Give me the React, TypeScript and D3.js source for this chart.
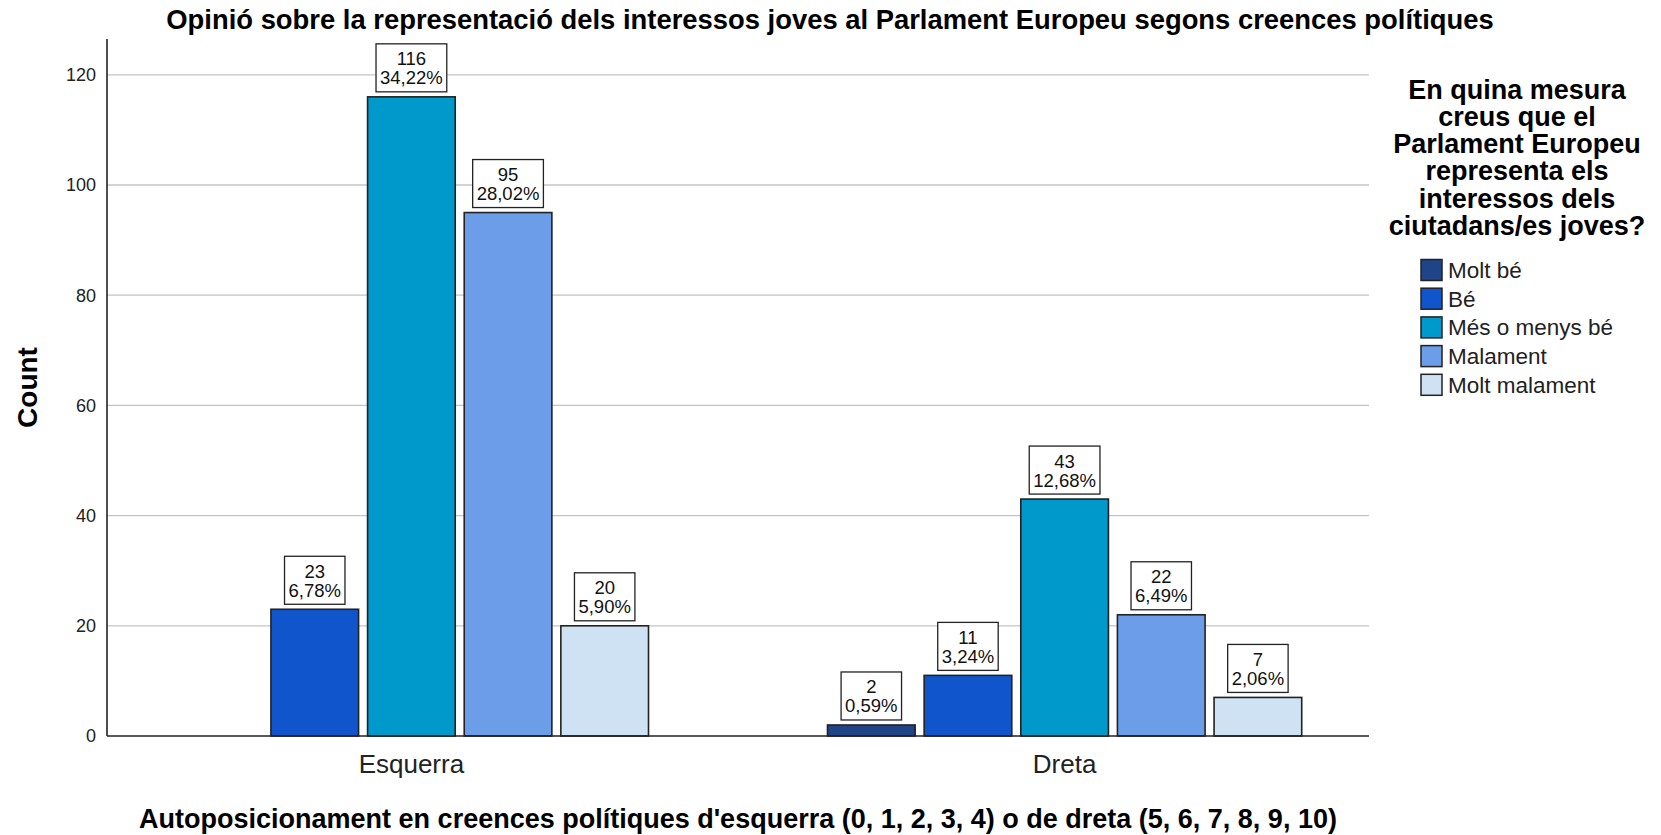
import React from "react";
import * as d3 from "d3";

const TITLE = "Opinió sobre la representació dels interessos joves al Parlament Europeu segons creences polítiques";
const X_TITLE = "Autoposicionament en creences polítiques d'esquerra (0, 1, 2, 3, 4) o de dreta (5, 6, 7, 8, 9, 10)";
const Y_TITLE = "Count";
const LEGEND_TITLE = ["En quina mesura", "creus que el", "Parlament Europeu", "representa els", "interessos dels", "ciutadans/es joves?"];

const categories = ["Esquerra", "Dreta"];
const seriesNames = ["Molt bé", "Bé", "Més o menys bé", "Malament", "Molt malament"];
const seriesColors = ["#1F4488", "#1155CC", "#0099CC", "#6B9DE8", "#CFE2F3"];
const esquerraValues = [0, 23, 116, 95, 20];
const dretaValues = [2, 11, 43, 22, 7];
const percentEsquerra = ["0,00%", "6,78%", "34,22%", "28,02%", "5,90%"];
const percentDreta = ["0,59%", "3,24%", "12,68%", "6,49%", "2,06%"];
const yTicks = [0, 20, 40, 60, 80, 100, 120];

const values = [esquerraValues, dretaValues];
const percents = [percentEsquerra, percentDreta];

const W = 1661;
const H = 835;
const FONT = '"Liberation Sans", Arial, Helvetica, sans-serif';
const LABEL_FS = 18.5;

let measureCtx: CanvasRenderingContext2D | null = null;
function measure(text: string, size: number): number {
  if (!measureCtx) {
    const c = document.createElement("canvas");
    measureCtx = c.getContext("2d");
  }
  if (!measureCtx) return text.length * size * 0.55;
  measureCtx.font = `${size}px "Liberation Sans", Arial, sans-serif`;
  return measureCtx.measureText(text).width;
}

export default function App() {
  React.useEffect(() => {
    document.body.style.margin = "0";
  }, []);

  const plotLeft = 107;
  const plotRight = 1369;
  const plotBottom = 736;
  const pxPerUnit = 5.51;
  const yMax = 126.5;

  const y = d3.scaleLinear().domain([0, yMax]).range([plotBottom, plotBottom - yMax * pxPerUnit]);
  const x0 = d3
    .scaleBand<string>()
    .domain(categories)
    .range([plotLeft, plotRight])
    .paddingInner(0.274)
    .paddingOuter(0.103);
  const x1 = d3
    .scaleBand<string>()
    .domain(seriesNames)
    .range([0, x0.bandwidth()])
    .paddingInner(0.093)
    .paddingOuter(0);

  const plotTop = y(yMax);

  return (
    <svg
      width={W}
      height={H}
      viewBox={`0 0 ${W} ${H}`}
      style={{ position: "absolute", left: 0, top: 0, background: "#fff", fontFamily: FONT }}
    >
      <rect x={0} y={0} width={W} height={H} fill="#fff" />
      {/* Title */}
      <text x={830} y={29} textAnchor="middle" fontSize={27.4} fontWeight="bold" fill="#000">
        {TITLE}
      </text>

      {/* gridlines */}
      {yTicks
        .filter((t) => t > 0)
        .map((t) => (
          <line key={t} x1={plotLeft} x2={plotRight} y1={y(t)} y2={y(t)} stroke="#C4C4C4" strokeWidth={1.3} />
        ))}

      {/* y tick labels */}
      {yTicks.map((t) => (
        <text key={t} x={96} y={y(t)} dy="0.35em" textAnchor="end" fontSize={18} fill="#222">
          {t}
        </text>
      ))}

      {/* bars */}
      {categories.map((cat, ci) => (
        <g key={cat} transform={`translate(${x0(cat)},0)`}>
          {seriesNames.map((s, si) => {
            const v = values[ci][si];
            if (v <= 0) return null;
            const bx = x1(s) as number;
            const bw = x1.bandwidth();
            const top = y(v);
            const countStr = String(v);
            const pctStr = percents[ci][si];
            const tw = Math.max(measure(countStr, LABEL_FS), measure(pctStr, LABEL_FS));
            const boxW = tw + 8;
            const boxH = 48;
            const boxBottom = top - 5;
            const boxTop = boxBottom - boxH;
            const cx = bx + bw / 2;
            return (
              <g key={s}>
                <rect
                  x={bx}
                  y={top}
                  width={bw}
                  height={plotBottom - top}
                  fill={seriesColors[si]}
                  stroke="#222"
                  strokeWidth={1.6}
                />
                <rect x={cx - boxW / 2} y={boxTop} width={boxW} height={boxH} fill="#fff" stroke="#222" strokeWidth={1.3} />
                <text x={cx} y={boxTop + 21.5} textAnchor="middle" fontSize={LABEL_FS} fill="#111">
                  {countStr}
                </text>
                <text x={cx} y={boxTop + 40.5} textAnchor="middle" fontSize={LABEL_FS} fill="#111">
                  {pctStr}
                </text>
              </g>
            );
          })}
        </g>
      ))}

      {/* axes */}
      <line x1={plotLeft} x2={plotLeft} y1={plotTop} y2={plotBottom} stroke="#222" strokeWidth={1.6} />
      <line x1={plotLeft} x2={plotRight} y1={plotBottom} y2={plotBottom} stroke="#222" strokeWidth={1.6} />

      {/* x tick labels */}
      {categories.map((cat) => (
        <text
          key={cat}
          x={(x0(cat) as number) + x0.bandwidth() / 2}
          y={773}
          textAnchor="middle"
          fontSize={26}
          fill="#222"
        >
          {cat}
        </text>
      ))}

      {/* x title */}
      <text x={(plotLeft + plotRight) / 2} y={828} textAnchor="middle" fontSize={27} fontWeight="bold" fill="#000">
        {X_TITLE}
      </text>

      {/* y title */}
      <text
        transform={`translate(37,${(plotTop + plotBottom) / 2}) rotate(-90)`}
        textAnchor="middle"
        fontSize={28}
        fontWeight="bold"
        fill="#000"
      >
        {Y_TITLE}
      </text>

      {/* legend */}
      {LEGEND_TITLE.map((line, i) => (
        <text key={i} x={1517} y={98.5 + i * 27.3} textAnchor="middle" fontSize={27} fontWeight="bold" fill="#000">
          {line}
        </text>
      ))}
      {seriesNames.map((s, i) => {
        const cy = 270 + i * 28.7;
        return (
          <g key={s}>
            <rect x={1421} y={cy - 10.5} width={21} height={21} fill={seriesColors[i]} stroke="#222" strokeWidth={1.5} />
            <text x={1448} y={cy} dy="0.35em" fontSize={22.5} fill="#222">
              {s}
            </text>
          </g>
        );
      })}
    </svg>
  );
}
